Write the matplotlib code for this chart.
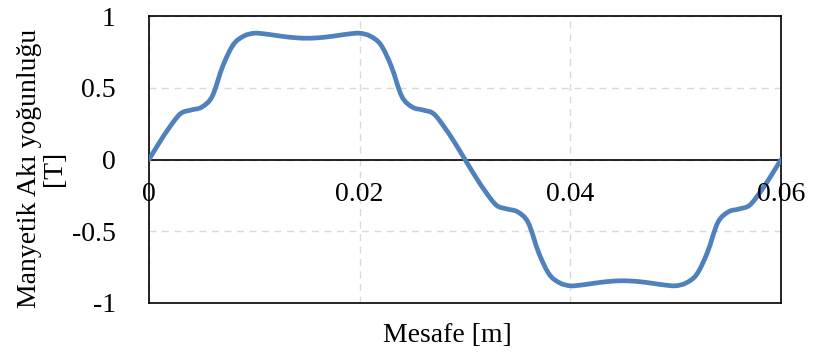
import matplotlib
matplotlib.use("Agg")
import matplotlib.pyplot as plt
from matplotlib.path import Path
from matplotlib.patches import PathPatch
from matplotlib.transforms import offset_copy
import numpy as np

# Data (distance in m, flux density in T)
distance = [i * 0.001 for i in range(61)]
flux = [
    0.00, 0.12, 0.23, 0.32, 0.345, 0.365, 0.44, 0.65, 0.80, 0.86,
    0.88, 0.875, 0.865, 0.855, 0.848, 0.845, 0.848, 0.855, 0.865, 0.875,
    0.88, 0.86, 0.80, 0.65, 0.44, 0.365, 0.345, 0.32, 0.23, 0.12,
    0.00, -0.12, -0.23, -0.32, -0.345, -0.365, -0.44, -0.65, -0.80, -0.86,
    -0.88, -0.875, -0.865, -0.855, -0.848, -0.845, -0.848, -0.855, -0.865, -0.875,
    -0.88, -0.86, -0.80, -0.65, -0.44, -0.365, -0.345, -0.32, -0.23, -0.12,
    0.00,
]
x_ticks = [0, 0.02, 0.04, 0.06]
x_tick_labels = ["0", "0.02", "0.04", "0.06"]
y_ticks = [-1, -0.5, 0, 0.5, 1]
y_tick_labels = ["-1", "-0.5", "0", "0.5", "1"]
x_label = "Mesafe [m]"
y_label = "Manyetik Akı yoğunluğu\n[T]"

plt.rcParams['font.family'] = ['Liberation Serif', 'DejaVu Serif']
FS = 20

fig = plt.figure(figsize=(8.14, 3.6), dpi=100)
ax = fig.add_axes([149/814, 1-303/360, 632/814, 287/360])

# Smoothed line (Catmull-Rom drawn as cubic Bezier through the data points)
xs = np.asarray(distance)
ys = np.asarray(flux)
verts = [(xs[0], ys[0])]
codes = [Path.MOVETO]
n = len(xs)
for i in range(n - 1):
    p0 = np.array([xs[max(i-1, 0)], ys[max(i-1, 0)]])
    p1 = np.array([xs[i], ys[i]])
    p2 = np.array([xs[i+1], ys[i+1]])
    p3 = np.array([xs[min(i+2, n-1)], ys[min(i+2, n-1)]])
    c1 = p1 + (p2 - p0) / 6.0
    c2 = p2 - (p3 - p1) / 6.0
    verts += [tuple(c1), tuple(c2), tuple(p2)]
    codes += [Path.CURVE4, Path.CURVE4, Path.CURVE4]
ax.add_patch(PathPatch(Path(verts, codes), facecolor='none', edgecolor='#4F81BD',
                       lw=3.4, capstyle='round', joinstyle='round', zorder=3))

ax.set_xlim(0, 0.06)
ax.set_ylim(-1, 1)
ax.set_xticks(x_ticks)
ax.set_xticklabels([])
ax.set_yticks(y_ticks)
ax.set_yticklabels(y_tick_labels, fontsize=FS)
ax.tick_params(axis='both', length=0)
ax.tick_params(axis='y', pad=24)
ax.grid(True, color='#D9D9D9', linestyle=(0, (5, 4)), lw=1.0)
for s in ax.spines.values():
    s.set_linewidth(1.2)
    s.set_color('black')
ax.axhline(0, color='black', lw=1.2, zorder=2)

trans = offset_copy(ax.transData, fig=fig, x=0, y=-35, units='dots')
for xv, lab in zip(x_ticks, x_tick_labels):
    ax.text(xv, 0, lab, transform=trans, fontsize=FS, ha='center', va='center',
            zorder=4, clip_on=False)

fig.text(447/814, 1-336/360, x_label, fontsize=FS, ha='center', va='center')
fig.text(42/814, 1-168/360, y_label, fontsize=FS, ha='center', va='center',
         rotation=90, multialignment='center', linespacing=1.0)

fig.savefig("out.png", dpi=100)
